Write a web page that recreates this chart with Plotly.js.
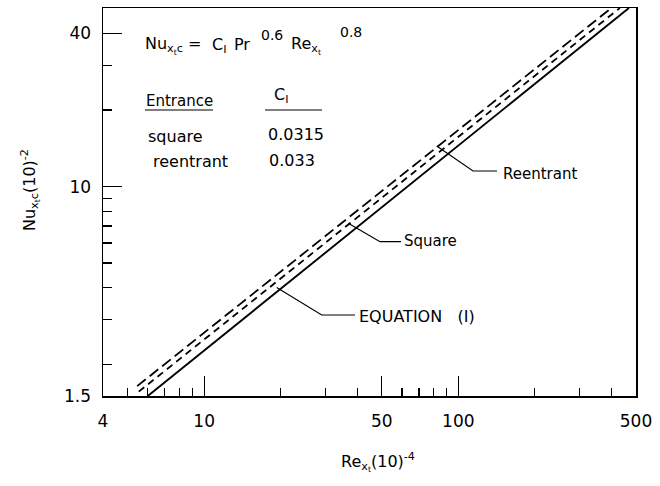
<!DOCTYPE html>
<html>
<head>
<meta charset="utf-8">
<script src="https://cdn.plot.ly/plotly-3.0.1.min.js"></script>
<style>html,body{margin:0;padding:0;background:#fff;}#chart{width:660px;height:486px;}</style>
</head>
<body>
<div id="chart"></div>
<script>
// ---- data ----
const equationX = [6.0, 469];
const equationY = [1.5, 50.4];
const squareX = [5.53, 432];
const squareY = [1.56, 50.4];
const reentrantX = [5.45, 400];
const reentrantY = [1.64, 50.4];

const xTickVals = [4, 10, 50, 100, 500];
const xTickText = ['4', '10', '50', '100', '500'];
const xMinorVals = [5, 6, 7, 8, 9, 20, 30, 40, 60, 70, 80, 90, 200, 300, 400];
const yTickVals = [1.5, 10, 40];
const yTickText = ['1.5', '10', '40'];
const yMinorVals = [2, 3, 4, 5, 6, 7, 8, 9, 20, 30];

const tableEntrance = ['square', 'reentrant'];
const tableC1 = ['0.0315', '0.033'];

// ---- layout helpers (pixel -> paper) ----
const L = 103, R = 636, T = 8, B = 396;
const px = x => (x - L) / (R - L);
const py = y => (B - y) / (B - T);
const FONT = 'DejaVu Sans';

const traces = [
  {x: equationX, y: equationY, mode: 'lines', line: {color: '#000', width: 1.9}, hoverinfo: 'skip'},
  {x: squareX, y: squareY, mode: 'lines', line: {color: '#000', width: 1.8, dash: '7px,5px'}, hoverinfo: 'skip'},
  {x: reentrantX, y: reentrantY, mode: 'lines', line: {color: '#000', width: 1.8, dash: '11px,5px'}, hoverinfo: 'skip'}
];

function txt(x, y, text, size, anchor) {
  return {xref: 'paper', yref: 'paper', x: px(x), y: py(y), text: text, showarrow: false,
    xanchor: anchor || 'left', yanchor: 'middle', font: {family: FONT, size: size || 14, color: '#000'}};
}
function path(pts) {
  return {type: 'path', xref: 'paper', yref: 'paper',
    path: pts.map((p, i) => (i ? 'L' : 'M') + px(p[0]) + ',' + py(p[1])).join(' '),
    line: {color: '#000', width: 1.2}};
}

const annotations = [
  txt(143, 46, 'Nu<sub>x<sub>t</sub>c</sub> =', 16),
  txt(210, 46, 'C<sub>I</sub>', 16),
  txt(232, 44, 'Pr', 16),
  txt(259, 35, '0.6', 14),
  txt(289, 46, 'Re<sub>x<sub>t</sub></sub>', 16),
  txt(338, 32, '0.8', 14),
  txt(144, 101, 'Entrance', 15),
  txt(272, 96, 'C<sub>I</sub>', 16),
  txt(146, 136, tableEntrance[0], 16),
  txt(266, 134, tableC1[0], 16),
  txt(151, 161, tableEntrance[1], 16),
  txt(267, 160, tableC1[1], 16),
  txt(501, 174, 'Reentrant', 15),
  txt(402, 241, 'Square', 15),
  txt(357, 316, 'EQUATION &nbsp;&nbsp;(I)', 16),
  {xref: 'paper', yref: 'paper', x: px(378), y: py(462), text: 'Re<sub>x<sub>t</sub></sub>(10)<sup>-4</sup>',
    showarrow: false, xanchor: 'center', yanchor: 'middle', font: {family: FONT, size: 16, color: '#000'}},
  {xref: 'paper', yref: 'paper', x: px(30), y: py(190), text: 'Nu<sub>x<sub>t</sub>c</sub>(10)<sup>-2</sup>',
    showarrow: false, textangle: -90, xanchor: 'center', yanchor: 'middle', font: {family: FONT, size: 16, color: '#000'}}
];

const shapes = [
  path([[436.7, 146], [473, 171], [497, 171]]),
  path([[348.3, 223.3], [380, 241.7], [401, 241.7]]),
  path([[276.7, 287.5], [321.7, 315], [355, 315]]),
  {type: 'line', xref: 'paper', yref: 'paper', x0: px(145), x1: px(213), y0: py(110), y1: py(110), line: {color: '#000', width: 1.2}},
  {type: 'line', xref: 'paper', yref: 'paper', x0: px(265), x1: px(322), y0: py(110), y1: py(110), line: {color: '#000', width: 1.2}}
];

const layout = {
  width: 660, height: 486,
  margin: {l: L, r: 660 - R, t: T, b: 486 - B},
  paper_bgcolor: '#fff', plot_bgcolor: '#fff',
  showlegend: false,
  xaxis: {type: 'log', range: [Math.log10(4), Math.log10(500)], showgrid: false, zeroline: false,
    showline: true, mirror: true, linecolor: '#000', linewidth: 1.5,
    tickmode: 'array', tickvals: xTickVals, ticktext: xTickText, ticks: 'inside', ticklen: 20, tickwidth: 1.3, tickcolor: '#000',
    ticklabelstandoff: 9,
    minor: {tickmode: 'array', tickvals: xMinorVals, ticks: 'inside', ticklen: 8, tickwidth: 1.2, tickcolor: '#000', showgrid: false},
    tickfont: {family: FONT, size: 17, color: '#000'}},
  yaxis: {type: 'log', range: [Math.log10(1.5), Math.log10(50.4)], showgrid: false, zeroline: false,
    showline: true, mirror: true, linecolor: '#000', linewidth: 1.5,
    tickmode: 'array', tickvals: yTickVals, ticktext: yTickText, ticks: 'inside', ticklen: 19, tickwidth: 1.3, tickcolor: '#000',
    ticklabelstandoff: 7,
    minor: {tickmode: 'array', tickvals: yMinorVals, ticks: 'inside', ticklen: 9, tickwidth: 1.2, tickcolor: '#000', showgrid: false},
    tickfont: {family: FONT, size: 17, color: '#000'}},
  annotations: annotations,
  shapes: shapes
};

Plotly.newPlot('chart', traces, layout, {staticPlot: true, displayModeBar: false});
</script>
</body>
</html>
